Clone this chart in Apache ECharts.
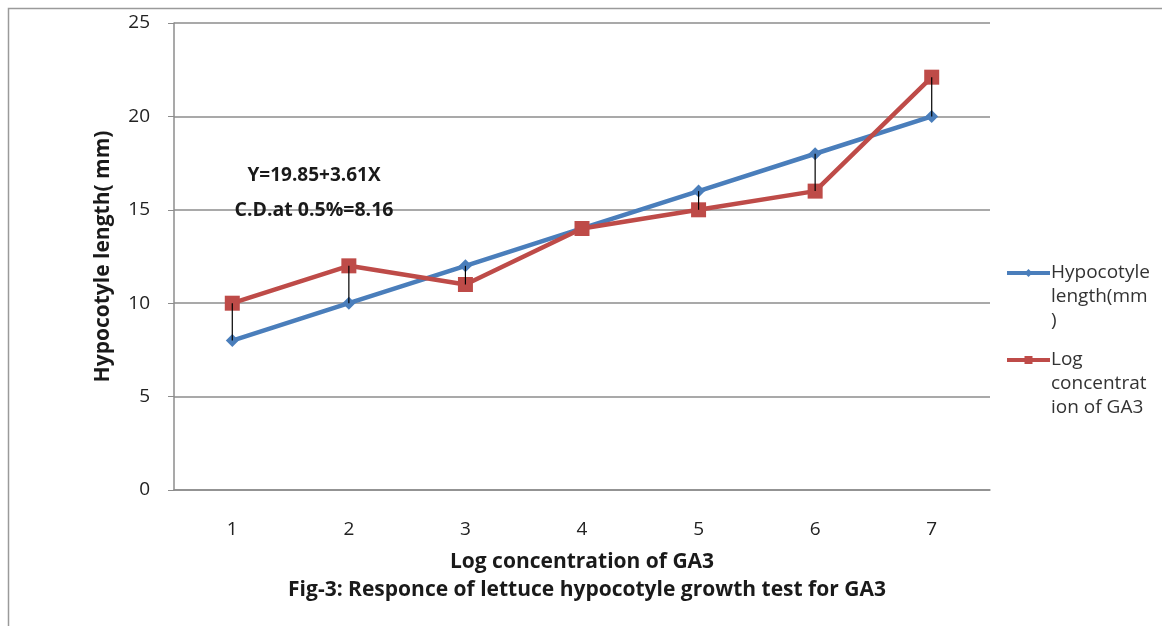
<!DOCTYPE html>
<html>
<head>
<meta charset="utf-8">
<script src="https://cdn.jsdelivr.net/npm/echarts@6/dist/echarts.min.js"></script>
<style>
html,body{margin:0;padding:0;background:#fff;}
#chart{width:1162px;height:626px;}
</style>
</head>
<body>
<div id="chart"></div>
<script>
const categories = ['1', '2', '3', '4', '5', '6', '7'];
const hypocotyleLength = [8, 10, 12, 14, 16, 18, 20];
const logConcentration = [10, 12, 11, 14, 15, 16, 22.1];
const yTicks = { min: 0, max: 25, interval: 5 };
const seriesNames = ['Hypocotyle length(mm)', 'Log concentration of GA3'];
const legendWrapped = {
  'Hypocotyle length(mm)': '\n\nHypocotyle\nlength(mm\n)',
  'Log concentration of GA3': '\n\nLog\nconcentrat\nion of GA3'
};
const xAxisTitle = 'Log concentration of GA3';
const yAxisTitle = 'Hypocotyle length( mm)';
const figCaption = 'Fig-3: Responce of lettuce hypocotyle growth test for GA3';
const annotation = ['Y=19.85+3.61X', 'C.D.at 0.5%=8.16'];

const chart = echarts.init(document.getElementById('chart'), null, {renderer: 'canvas'});
const FONT = 'Open Sans';
const legendText = { fontFamily: FONT, fontSize: 19, color: '#333', lineHeight: 24, padding: [0, 0, 0, -4] };
const legendBase = {
  orient: 'vertical', left: 1000,
  itemWidth: 43, itemHeight: 10,
  formatter: n => legendWrapped[n],
  textStyle: legendText,
  lineStyle: { width: 4 }
};
chart.setOption({
  animation: false,
  backgroundColor: '#fff',
  textStyle: { fontFamily: FONT },
  grid: { left: 174, top: 23, right: 172, bottom: 136, containLabel: false },
  title: {
    text: figCaption,
    left: 582, textAlign: 'center',
    top: 575,
    textStyle: { fontFamily: FONT, fontWeight: 'bold', fontSize: 21, color: '#1a1a1a' }
  },
  legend: [
    Object.assign({}, legendBase, { top: 208, data: [seriesNames[0]] }),
    Object.assign({}, legendBase, { top: 295, data: [seriesNames[1]] })
  ],
  xAxis: {
    type: 'category',
    data: categories,
    boundaryGap: true,
    name: xAxisTitle,
    nameLocation: 'middle',
    nameGap: 62,
    nameTextStyle: { fontFamily: FONT, fontWeight: 'bold', fontSize: 21, color: '#1a1a1a' },
    axisLine: { lineStyle: { color: '#8c8c8c', width: 1.5 } },
    axisTick: { show: false },
    axisLabel: { fontSize: 19, color: '#222', margin: 30 }
  },
  yAxis: {
    type: 'value',
    min: yTicks.min, max: yTicks.max, interval: yTicks.interval,
    name: yAxisTitle,
    nameLocation: 'middle',
    nameGap: 60,
    nameTextStyle: { fontFamily: FONT, fontWeight: 'bold', fontSize: 21, color: '#1a1a1a' },
    axisLine: { show: true, lineStyle: { color: '#8c8c8c', width: 1.5 } },
    axisTick: { show: true, length: 6, lineStyle: { color: '#8c8c8c' } },
    axisLabel: { fontSize: 19, color: '#222', margin: 24 },
    splitLine: { lineStyle: { color: '#8c8c8c', width: 1.5 } }
  },
  graphic: [
    { type: 'rect', shape: { x: 8.5, y: 8.5, width: 1300, height: 800 }, style: { fill: 'none', stroke: '#9a9a9a', lineWidth: 1.5 }, z: 100, silent: true },
    { type: 'text', x: 314, y: 176, style: { text: annotation[0], font: 'bold 19px "Open Sans"', fill: '#1a1a1a', align: 'center', verticalAlign: 'middle' }, z: 100 },
    { type: 'text', x: 314, y: 210, style: { text: annotation[1], font: 'bold 19.5px "Open Sans"', fill: '#1a1a1a', align: 'center', verticalAlign: 'middle' }, z: 100 }
  ],
  series: [
    {
      name: seriesNames[0], type: 'line', data: hypocotyleLength,
      symbol: 'diamond', symbolSize: 13,
      lineStyle: { color: '#4a7ebb', width: 4.5 },
      itemStyle: { color: '#4a7ebb' }, z: 3
    },
    {
      name: seriesNames[1], type: 'line', data: logConcentration,
      symbol: 'rect', symbolSize: 15,
      lineStyle: { color: '#be4b48', width: 4.5 },
      itemStyle: { color: '#be4b48' }, z: 4
    },
    {
      type: 'custom', name: 'hilo',
      data: categories.map((c, i) => [i, hypocotyleLength[i], logConcentration[i]]),
      renderItem: (params, api) => {
        const i = api.value(0);
        const p1 = api.coord([i, api.value(1)]);
        const p2 = api.coord([i, api.value(2)]);
        return { type: 'line', shape: { x1: p1[0], y1: p1[1], x2: p2[0], y2: p2[1] }, style: { stroke: '#000', lineWidth: 1.2 } };
      },
      z: 10, silent: true
    }
  ]
});
</script>
</body>
</html>
